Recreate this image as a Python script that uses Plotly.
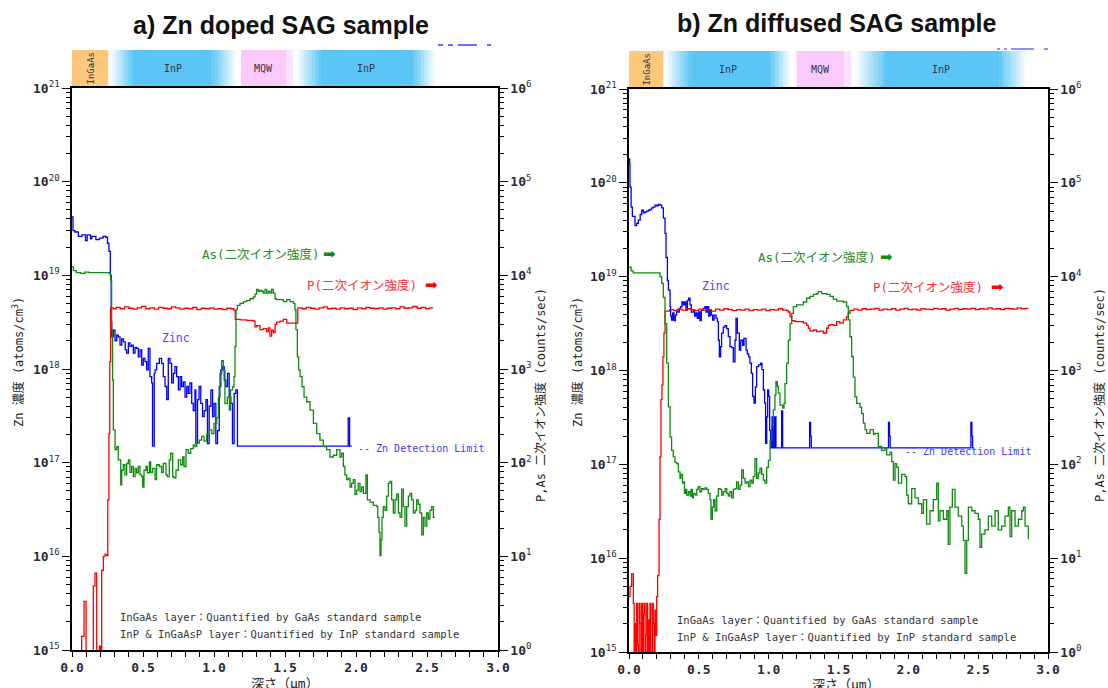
import plotly.graph_objects as go

W, H = 1108, 688
def fx(p): return p / W
def fy(p): return 1 - p / H

# ---------------- a) Zn doped SAG sample ----------------
a_zn_depth = [0.000, 0.007, 0.020, 0.045, 0.070, 0.095, 0.107, 0.130, 0.140, 0.168,
              0.193, 0.218, 0.238, 0.250, 0.260, 0.270, 0.276, 0.280, 0.291, 0.303,
              0.315, 0.326, 0.338, 0.350, 0.362, 0.375, 0.385, 0.397, 0.408, 0.420,
              0.432, 0.444, 0.455, 0.467, 0.479, 0.491, 0.502, 0.514, 0.526, 0.537,
              0.549, 0.561, 0.567, 0.573, 0.579, 0.585, 0.596, 0.615, 0.631, 0.643,
              0.655, 0.667, 0.678, 0.690, 0.702, 0.714, 0.725, 0.737, 0.749, 0.761,
              0.772, 0.784, 0.796, 0.808, 0.819, 0.831, 0.843, 0.854, 0.866, 0.872,
              0.884, 0.895, 0.907, 0.919, 0.931, 0.943, 0.954, 0.966, 0.978, 0.990,
              1.001, 1.013, 1.025, 1.037, 1.048, 1.060, 1.072, 1.083, 1.095, 1.107,
              1.118, 1.130, 1.142, 1.154, 1.165, 1.500, 1.940, 1.945, 1.955, 1.970]
a_zn_conc = [4.2e19, 3.0e19, 2.9e19, 2.6e19, 2.7e19, 2.35e19, 2.7e19, 2.45e19, 2.6e19, 2.4e19,
             2.5e19, 2.6e19, 2.55e19, 2.2e19, 1.8e19, 1.0e19, 3.2e18, 2.2e18, 2.6e18, 2.0e18,
             2.3e18, 2.2e18, 1.8e18, 2.1e18, 1.95e18, 1.6e18, 1.48e18, 1.9e18, 1.74e18, 1.8e18,
             1.48e18, 1.7e18, 1.66e18, 1.35e18, 1.6e18, 1.1e18, 1.3e18, 1.2e18, 9.8e17, 1.66e18,
             8.3e17, 7.1e17, 1.5e17, 1.5e17, 9.0e17, 9.8e17, 1.15e18, 1.3e18, 1.15e18, 8.3e17,
             6.5e17, 4.7e17, 1.3e18, 1.15e18, 7.1e17, 9.0e17, 1.06e18, 8.3e17, 6.0e17, 8.3e17,
             6.5e17, 7.3e17, 5.0e17, 6.5e17, 5.5e17, 7.1e17, 4.3e17, 3.6e17, 6.0e17, 1.6e17,
             4.7e17, 6.5e17, 4.3e17, 3.1e17, 3.6e17, 4.7e17, 1.6e17, 4.0e17, 6.0e17, 3.1e17,
             4.3e17, 1.6e17, 2.2e17, 6.5e17, 9.8e17, 1.06e18, 7.6e17, 6.5e17, 9.0e17, 5.0e17,
             4.3e17, 1.6e17, 5.5e17, 6.0e17, 1.5e17, 1.5e17, 1.5e17, 3.0e17, 1.5e17, 1.5e17]

a_as_depth = [0.000, 0.010, 0.030, 0.060, 0.090, 0.120, 0.160, 0.200, 0.240, 0.262,
              0.272, 0.279, 0.286, 0.291, 0.303, 0.315, 0.326, 0.343, 0.350, 0.361,
              0.373, 0.385, 0.397, 0.408, 0.420, 0.432, 0.444, 0.455, 0.467, 0.479,
              0.491, 0.498, 0.507, 0.521, 0.531, 0.545, 0.554, 0.568, 0.585, 0.596,
              0.615, 0.631, 0.643, 0.662, 0.671, 0.685, 0.695, 0.709, 0.718, 0.732,
              0.749, 0.765, 0.779, 0.789, 0.803, 0.819, 0.836, 0.854, 0.866, 0.878,
              0.897, 0.913, 0.930, 0.948, 0.967, 0.984, 1.000, 1.019, 1.031, 1.042,
              1.054, 1.066, 1.077, 1.094, 1.108, 1.117, 1.131, 1.141, 1.148, 1.155,
              1.164, 1.183, 1.207, 1.230, 1.254, 1.277, 1.289, 1.300, 1.312, 1.324,
              1.336, 1.347, 1.359, 1.371, 1.383, 1.394, 1.406, 1.418, 1.430, 1.441,
              1.465, 1.488, 1.512, 1.535, 1.559, 1.570, 1.577, 1.587, 1.596, 1.606,
              1.620, 1.634, 1.653, 1.676, 1.700, 1.723, 1.746, 1.770, 1.793, 1.817,
              1.840, 1.864, 1.887, 1.899, 1.911, 1.922, 1.934, 1.946, 1.958, 1.969,
              1.981, 1.993, 2.005, 2.016, 2.028, 2.040, 2.052, 2.070, 2.080, 2.099,
              2.122, 2.146, 2.153, 2.162, 2.169, 2.176, 2.183, 2.192, 2.204, 2.216,
              2.228, 2.239, 2.251, 2.263, 2.275, 2.286, 2.298, 2.310, 2.322, 2.333,
              2.345, 2.357, 2.369, 2.380, 2.392, 2.404, 2.416, 2.427, 2.439, 2.451,
              2.463, 2.474, 2.486, 2.498, 2.509, 2.521, 2.533, 2.545, 2.557]
a_as_counts = [12300, 11200, 10700, 10500, 10800, 10700, 10700, 10700, 10700, 10500,
               8900, 2630, 760, 224, 138, 148, 107, 58, 83, 95,
               74, 98, 107, 79, 91, 71, 87, 78, 91, 74,
               71, 55, 83, 91, 78, 102, 79, 87, 66, 95,
               91, 79, 98, 74, 71, 107, 126, 71, 69, 83,
               107, 95, 115, 91, 138, 126, 141, 155, 148, 162,
               174, 191, 170, 200, 224, 204, 263, 302, 500, 890,
               1230, 980, 427, 500, 363, 600, 646, 830, 1740, 4270,
               4790, 5010, 5250, 5370, 5620, 5890, 6310, 7080, 6760, 6920,
               6760, 6460, 7080, 6460, 6760, 6460, 7080, 6460, 5620, 5500,
               5500, 5250, 5500, 5250, 5010, 4270, 2630, 1350, 980, 830,
               646, 500, 447, 363, 263, 204, 174, 148, 138, 115,
               120, 138, 115, 126, 91, 74, 66, 68, 55, 60,
               66, 46, 51, 60, 49, 55, 47, 74, 40, 38,
               35, 34, 26, 18, 10.2, 15, 26, 34, 31, 44,
               60, 63, 40, 29, 40, 46, 29, 26, 52, 34,
               21, 34, 44, 47, 40, 29, 31, 40, 36, 29,
               17, 26, 21, 29, 25, 31, 34, 26, 26]

a_p_depth = [0.000, 0.068, 0.076, 0.085, 0.099, 0.150, 0.162, 0.174, 0.193, 0.200,
             0.209, 0.221, 0.232, 0.244, 0.252, 0.260, 0.266, 0.272, 0.290, 0.310,
             0.340, 0.370, 0.400, 0.430, 0.460, 0.490, 0.520, 0.550, 0.580, 0.610,
             0.640, 0.670, 0.700, 0.730, 0.760, 0.790, 0.820, 0.850, 0.880, 0.910,
             0.940, 0.970, 1.000, 1.030, 1.060, 1.090, 1.120, 1.140, 1.150, 1.183,
             1.230, 1.277, 1.289, 1.300, 1.324, 1.347, 1.371, 1.383, 1.394, 1.406,
             1.418, 1.430, 1.441, 1.465, 1.488, 1.512, 1.540, 1.560, 1.578, 1.590,
             1.620, 1.650, 1.680, 1.710, 1.740, 1.770, 1.800, 1.830, 1.860, 1.890,
             1.920, 1.950, 1.980, 2.010, 2.040, 2.070, 2.100, 2.130, 2.160, 2.190,
             2.220, 2.250, 2.280, 2.310, 2.340, 2.370, 2.400, 2.430, 2.460, 2.490,
             2.520, 2.540]
a_p_counts = [0.3, 1.4, 1.4, 3.3, 0.3, 4.8, 6.6, 0.3, 1.1, 0.3,
              7.1, 10, 10.5, 10.2, 40, 204, 1200, 4500, 4400, 4550,
              4400, 4600, 4450, 4350, 4500, 4650, 4400, 4500, 4350, 4550,
              4450, 4400, 4600, 4500, 4350, 4450, 4400, 4550, 4300, 4450,
              4400, 4500, 4350, 4400, 4300, 4450, 4400, 4200, 3390, 3350,
              3300, 3240, 2820, 2900, 2630, 2700, 2510, 2750, 2240, 2600,
              2450, 3000, 3160, 3240, 3390, 3090, 3090, 3090, 3090, 4500,
              4400, 4550, 4450, 4350, 4500, 4600, 4400, 4450, 4350, 4500,
              4400, 4450, 4300, 4500, 4400, 4550, 4450, 4400, 4500, 4350,
              4450, 4500, 4400, 4600, 4450, 4500, 4650, 4450, 4550, 4400,
              4500, 4450]

# ---------------- b) Zn diffused SAG sample ----------------
b_zn_depth = [0.000, 0.005, 0.007, 0.015, 0.024, 0.043, 0.055, 0.067, 0.080, 0.091,
              0.103, 0.115, 0.127, 0.139, 0.150, 0.162, 0.174, 0.186, 0.198, 0.210,
              0.222, 0.234, 0.246, 0.258, 0.265, 0.275, 0.282, 0.294, 0.298, 0.305,
              0.313, 0.322, 0.332, 0.341, 0.351, 0.360, 0.370, 0.379, 0.389, 0.399,
              0.408, 0.418, 0.427, 0.437, 0.446, 0.461, 0.470, 0.480, 0.489, 0.499,
              0.508, 0.518, 0.532, 0.544, 0.551, 0.561, 0.571, 0.580, 0.590, 0.599,
              0.609, 0.623, 0.633, 0.640, 0.647, 0.656, 0.663, 0.675, 0.687, 0.699,
              0.711, 0.723, 0.735, 0.747, 0.759, 0.766, 0.776, 0.790, 0.800, 0.814,
              0.823, 0.838, 0.847, 0.857, 0.866, 0.876, 0.885, 0.895, 0.905, 0.914,
              0.928, 0.943, 0.952, 0.962, 0.971, 0.978, 0.986, 0.993, 1.000, 1.007,
              1.014, 1.024, 1.033, 1.043, 1.052, 1.093, 1.100, 1.290, 1.293, 1.300,
              1.305, 1.855, 1.858, 1.865, 1.870, 2.445, 2.448, 2.455, 2.460, 2.470]
b_zn_conc = [1.8e20, 1.6e20, 9.0e19, 5.5e19, 4.4e19, 3.5e19, 3.7e19, 4.0e19, 4.6e19, 5.1e19,
             4.8e19, 4.9e19, 5.0e19, 5.1e19, 5.2e19, 5.4e19, 5.5e19, 5.8e19, 5.7e19, 5.9e19,
             5.8e19, 5.4e19, 4.2e19, 2.9e19, 1.6e19, 9.1e18, 7.2e18, 4.8e18, 3.8e18, 3.45e18,
             4.1e18, 3.4e18, 3.9e18, 4.4e18, 4.2e18, 4.6e18, 4.8e18, 5.4e18, 5.0e18, 5.4e18,
             4.4e18, 5.6e18, 5.9e18, 5.0e18, 4.2e18, 4.4e18, 3.8e18, 4.1e18, 3.6e18, 4.2e18,
             3.4e18, 4.4e18, 4.6e18, 4.8e18, 4.2e18, 4.8e18, 3.8e18, 4.4e18, 3.9e18, 3.45e18,
             3.9e18, 3.6e18, 3.3e18, 2.1e18, 1.4e18, 1.8e18, 2.5e18, 2.9e18, 3.0e18, 2.8e18,
             2.3e18, 1.8e18, 1.75e18, 1.24e18, 2.1e18, 3.6e18, 2.5e18, 1.65e18, 2.1e18, 1.85e18,
             2.2e18, 1.65e18, 1.5e18, 1.4e18, 1.2e18, 9.3e17, 5.3e17, 4.5e17, 6.7e17, 1.1e18,
             1.15e18, 1.2e18, 1.02e18, 6.2e17, 4.5e17, 1.67e17, 3.2e17, 6.2e17, 5.3e17, 2.3e17,
             1.5e17, 3.2e17, 1.5e17, 3.2e17, 1.5e17, 3.7e17, 1.5e17, 1.5e17, 2.8e17, 2.0e17,
             1.5e17, 1.5e17, 2.8e17, 2.0e17, 1.5e17, 1.5e17, 2.8e17, 2.0e17, 1.5e17, 1.5e17]

b_as_depth = [0.000, 0.015, 0.030, 0.060, 0.100, 0.140, 0.180, 0.210, 0.222, 0.234,
              0.246, 0.258, 0.270, 0.282, 0.294, 0.305, 0.317, 0.329, 0.341, 0.353,
              0.365, 0.371, 0.383, 0.389, 0.397, 0.406, 0.413, 0.425, 0.437, 0.444,
              0.454, 0.461, 0.473, 0.485, 0.496, 0.508, 0.520, 0.532, 0.544, 0.556,
              0.568, 0.580, 0.587, 0.597, 0.606, 0.616, 0.628, 0.640, 0.652, 0.664,
              0.676, 0.688, 0.700, 0.711, 0.723, 0.735, 0.747, 0.759, 0.771, 0.783,
              0.795, 0.807, 0.819, 0.831, 0.843, 0.855, 0.867, 0.879, 0.890, 0.902,
              0.914, 0.926, 0.938, 0.950, 0.962, 0.974, 0.986, 0.998, 1.010, 1.022,
              1.033, 1.045, 1.052, 1.062, 1.069, 1.081, 1.100, 1.110, 1.117, 1.129,
              1.141, 1.153, 1.165, 1.177, 1.200, 1.224, 1.248, 1.272, 1.296, 1.320,
              1.343, 1.355, 1.367, 1.379, 1.391, 1.415, 1.439, 1.463, 1.487, 1.510,
              1.534, 1.558, 1.570, 1.582, 1.594, 1.606, 1.618, 1.630, 1.654, 1.666,
              1.678, 1.690, 1.702, 1.726, 1.750, 1.761, 1.785, 1.809, 1.833, 1.845,
              1.869, 1.881, 1.893, 1.905, 1.917, 1.929, 1.952, 1.976, 1.988, 2.000,
              2.024, 2.048, 2.072, 2.096, 2.108, 2.131, 2.155, 2.179, 2.203, 2.215,
              2.227, 2.251, 2.275, 2.286, 2.298, 2.315, 2.334, 2.358, 2.382, 2.394,
              2.406, 2.418, 2.430, 2.454, 2.477, 2.501, 2.513, 2.525, 2.549, 2.573,
              2.597, 2.621, 2.644, 2.668, 2.692, 2.716, 2.728, 2.740, 2.764, 2.788,
              2.812, 2.824, 2.836, 2.859]
b_as_counts = [12600, 11500, 11000, 11000, 11000, 11000, 11000, 11000, 10000, 8500,
               6000, 3160, 1200, 410, 195, 141, 120, 105, 102, 83,
               71, 78, 63, 65, 49, 54, 47, 51, 46, 54,
               44, 49, 47, 54, 58, 51, 55, 54, 56, 54,
               49, 42, 26, 35, 42, 32, 46, 55, 54, 47,
               51, 55, 49, 46, 51, 44, 54, 55, 65, 54,
               60, 87, 71, 63, 65, 58, 68, 63, 74, 115,
               71, 81, 91, 78, 68, 63, 93, 110, 180, 260,
               380, 550, 759, 676, 575, 427, 398, 447, 724, 1200,
               2090, 3160, 4070, 4790, 5010, 5010, 5370, 5890, 6170, 6460,
               6610, 6920, 6920, 6610, 6610, 6460, 6170, 5750, 5500, 5500,
               5370, 4790, 3470, 2290, 1410, 851, 525, 447, 407, 347,
               275, 234, 214, 234, 209, 214, 155, 141, 148, 126,
               135, 107, 68, 102, 93, 63, 78, 74, 47, 38,
               55, 44, 38, 30, 42, 23, 32, 42, 63, 25,
               32, 26, 32, 14, 35, 54, 35, 28, 22, 15.5,
               6.9, 15.5, 35, 32, 30, 26, 13, 18, 20, 28,
               22, 32, 20, 22, 28, 35, 17, 32, 22, 26,
               32, 35, 22, 16]

b_p_depth = [0.000, 0.007, 0.019, 0.031, 0.037, 0.043, 0.049, 0.055, 0.061, 0.067,
             0.073, 0.079, 0.085, 0.091, 0.097, 0.103, 0.109, 0.115, 0.121, 0.127,
             0.133, 0.139, 0.145, 0.150, 0.156, 0.162, 0.168, 0.174, 0.180, 0.186,
             0.192, 0.198, 0.205, 0.215, 0.222, 0.229, 0.236, 0.243, 0.250, 0.258,
             0.290, 0.320, 0.350, 0.380, 0.410, 0.440, 0.470, 0.500, 0.530, 0.560,
             0.590, 0.620, 0.650, 0.680, 0.710, 0.740, 0.770, 0.800, 0.830, 0.860,
             0.890, 0.920, 0.950, 0.980, 1.010, 1.040, 1.070, 1.100, 1.130, 1.141,
             1.153, 1.165, 1.189, 1.224, 1.248, 1.272, 1.284, 1.296, 1.320, 1.343,
             1.367, 1.391, 1.415, 1.427, 1.439, 1.463, 1.487, 1.510, 1.534, 1.558,
             1.570, 1.582, 1.610, 1.640, 1.670, 1.700, 1.730, 1.760, 1.790, 1.820,
             1.850, 1.880, 1.910, 1.940, 1.970, 2.000, 2.030, 2.060, 2.090, 2.120,
             2.150, 2.180, 2.210, 2.240, 2.270, 2.300, 2.330, 2.360, 2.390, 2.420,
             2.450, 2.480, 2.510, 2.540, 2.570, 2.600, 2.630, 2.660, 2.690, 2.720,
             2.750, 2.780, 2.810, 2.840, 2.855]
b_p_counts = [3.9, 5.0, 6.8, 3.3, 0.3, 2.0, 0.3, 3.3, 1.2, 0.3,
              3.3, 2.0, 0.3, 3.3, 0.3, 2.5, 3.3, 0.3, 1.5, 3.3,
              0.3, 2.2, 0.3, 3.3, 1.0, 0.3, 3.3, 2.0, 0.3, 2.8,
              1.5, 3.9, 6.5, 26, 120, 490, 700, 1400, 2500, 4300,
              4450, 4350, 4500, 4400, 4550, 4450, 4350, 4500, 4400, 4450,
              4300, 4500, 4400, 4550, 4450, 4350, 4450, 4400, 4500, 4350,
              4450, 4400, 4500, 4350, 4450, 4400, 4550, 4400, 4350, 4200,
              3720, 3390, 3310, 3310, 3200, 3020, 2820, 2630, 2700, 2600,
              2630, 2510, 2820, 3020, 3090, 3020, 3310, 3200, 3470, 3720,
              4070, 4370, 4500, 4400, 4550, 4450, 4500, 4600, 4400, 4500,
              4450, 4550, 4400, 4500, 4600, 4450, 4500, 4400, 4550, 4500,
              4450, 4600, 4500, 4550, 4400, 4500, 4600, 4450, 4550, 4500,
              4600, 4450, 4550, 4500, 4650, 4500, 4550, 4450, 4600, 4550,
              4500, 4650, 4550, 4600, 4650]

# layer structure bars: (label, fade_start, solid_start, solid_end, fade_end, colour)
ORANGE, BLUE, PINK, PALE = "#FDC87B", "#5BC6F5", "#FACBFA", "#FCE2FC"
a_layers = [("InGaAs", 0.000, 0.000, 0.254, 0.254, ORANGE),
            ("InP", 0.268, 0.430, 0.990, 1.160, BLUE),
            ("MQW", 1.190, 1.190, 1.510, 1.510, PINK),
            ("", 1.510, 1.510, 1.555, 1.555, PALE),
            ("InP", 1.580, 1.750, 2.400, 2.560, BLUE)]
b_layers = [("InGaAs", 0.000, 0.000, 0.245, 0.245, ORANGE),
            ("InP", 0.258, 0.440, 1.010, 1.160, BLUE),
            ("MQW", 1.200, 1.200, 1.540, 1.540, PINK),
            ("", 1.540, 1.540, 1.590, 1.590, PALE),
            ("InP", 1.620, 1.840, 2.650, 2.850, BLUE)]

depth_ticks = [0.0, 0.5, 1.0, 1.5, 2.0, 2.5, 3.0]
conc_decades = [15, 16, 17, 18, 19, 20, 21]
count_decades = [0, 1, 2, 3, 4, 5, 6]
DETECTION_TEXT = "-- Zn Detection Limit"

RED, GREEN, ZBLUE = "#FF0000", "#118A11", "#0000FF"
MONO = "DejaVu Sans Mono, Noto Sans CJK JP, monospace"
CJK = "DejaVu Sans Mono, Noto Sans CJK JP, sans-serif"
TICKC = "#2a2a36"

fig = go.Figure()

def add_line(x, y, xa, ya, color):
    fig.add_trace(go.Scatter(x=x, y=y, xaxis=xa, yaxis=ya, mode="lines",
                             line=dict(color=color, width=1.3, shape="hv"),
                             showlegend=False, hoverinfo="skip"))

add_line(a_zn_depth, a_zn_conc, "x", "y", ZBLUE)
add_line(a_p_depth, a_p_counts, "x", "y2", RED)
add_line(a_as_depth, a_as_counts, "x", "y2", GREEN)
add_line(b_zn_depth, b_zn_conc, "x2", "y3", ZBLUE)
add_line(b_p_depth, b_p_counts, "x2", "y4", RED)
add_line(b_as_depth, b_as_counts, "x2", "y4", GREEN)

def minor_vals(decs):
    return [m * 10.0 ** d for d in decs[:-1] for m in range(2, 10)]

def xaxis_cfg(l, r, anchor):
    return dict(domain=[fx(l), fx(r)], range=[0, 3], anchor=anchor, showgrid=False,
                zeroline=False, showline=True, linecolor="black", linewidth=1.5,
                mirror=True, ticks="outside", ticklen=5, tickwidth=1.2, tickcolor="black",
                automargin=False,
                tickmode="array", tickvals=depth_ticks,
                ticktext=["<b>%.1f</b>" % t for t in depth_ticks],
                tickfont=dict(family=MONO, size=13, color=TICKC),
                minor=dict(dtick=0.1, ticks="outside", ticklen=5, tickwidth=1.2,
                           tickcolor="black", showgrid=False))

def yaxis_cfg(t, b, anchor, decs, side="left", overlay=None):
    d = dict(type="log", range=[decs[0], decs[-1]], anchor=anchor, side=side,
             showgrid=False, zeroline=False, showline=True, linecolor="black",
             linewidth=1.5, ticks="outside", ticklen=8, tickwidth=1.2, tickcolor="black",
             automargin=False,
             tickmode="array", tickvals=[10.0 ** k for k in decs],
             ticktext=["<b>10</b><sup>%d</sup>" % k for k in decs],
             tickfont=dict(family=MONO, size=13, color=TICKC),
             minor=dict(tickmode="array", tickvals=minor_vals(decs), ticks="outside",
                        ticklen=4, tickwidth=1, tickcolor="black", showgrid=False))
    if overlay:
        d["overlaying"] = overlay
    else:
        d["domain"] = [fy(b), fy(t)]
    return d

fig.update_layout(
    width=W, height=H, margin=dict(l=0, r=0, t=0, b=0, autoexpand=False),
    paper_bgcolor="white", plot_bgcolor="white", showlegend=False,
    xaxis=xaxis_cfg(72, 498, "y"),
    yaxis=yaxis_cfg(88, 650, "x", conc_decades),
    yaxis2=yaxis_cfg(88, 650, "x", count_decades, side="right", overlay="y"),
    xaxis2=xaxis_cfg(629, 1048, "y3"),
    yaxis3=yaxis_cfg(89, 652, "x2", conc_decades),
    yaxis4=yaxis_cfg(89, 652, "x2", count_decades, side="right", overlay="y3"),
)

# ---- layer bars ----
def blend(c, t):
    r, g, b = int(c[1:3], 16), int(c[3:5], 16), int(c[5:7], 16)
    return "rgb(%d,%d,%d)" % (round(255 + (r - 255) * t), round(255 + (g - 255) * t),
                              round(255 + (b - 255) * t))

shapes = []
annos = []
def bar(layers, xref, top, bottom):
    y1, y0 = fy(top), fy(bottom)
    n = 16
    for name, f0, s0, s1, f1, col in layers:
        if s0 > f0:
            for i in range(n):
                a = f0 + (s0 - f0) * i / n
                b = f0 + (s0 - f0) * (i + 1) / n + 0.002
                shapes.append(dict(type="rect", xref=xref, yref="paper", x0=a, x1=b, y0=y0, y1=y1,
                                   fillcolor=blend(col, (i + 0.5) / n), line=dict(width=0), layer="below"))
        shapes.append(dict(type="rect", xref=xref, yref="paper", x0=s0, x1=s1 + 0.001, y0=y0, y1=y1,
                           fillcolor=col, line=dict(width=0), layer="below"))
        if f1 > s1:
            for i in range(n):
                a = s1 + (f1 - s1) * i / n
                b = s1 + (f1 - s1) * (i + 1) / n + 0.002
                shapes.append(dict(type="rect", xref=xref, yref="paper", x0=a, x1=b, y0=y0, y1=y1,
                                   fillcolor=blend(col, 1 - (i + 0.5) / n), line=dict(width=0), layer="below"))
        if name:
            mid = (f0 + f1) / 2
            annos.append(dict(xref=xref, yref="paper", x=mid, y=(y0 + y1) / 2, text=name,
                              showarrow=False, xanchor="center", yanchor="middle",
                              textangle=-90 if name == "InGaAs" else 0,
                              font=dict(family=MONO, size=10 if name != "InGaAs" else 9, color="#333344")))

bar(a_layers, "x", 50, 87)
bar(b_layers, "x2", 51, 88)

# small blue legend fragments above the panels
for (x0, x1, yy, col) in [(438, 443, 45, "#3b3bff"), (448, 453, 45, "#3b3bff"), (458, 477, 45, "#3b3bff"), (487, 491, 45, "#3b3bff"),
                          (997, 1000, 49, "#6b6bff"), (1004, 1007, 49, "#6b6bff"), (1011, 1034, 49, "#6b6bff"), (1044, 1048, 49, "#6b6bff")]:
    shapes.append(dict(type="line", xref="paper", yref="paper", x0=fx(x0), x1=fx(x1), y0=fy(yy), y1=fy(yy),
                       line=dict(color=col, width=1.5)))

def text(x, y, s, size=12, color="#222", family=CJK, angle=0, anchor="left", bold=False):
    annos.append(dict(xref="paper", yref="paper", x=fx(x), y=fy(y), text=("<b>%s</b>" % s) if bold else s,
                      showarrow=False, xanchor=anchor, yanchor="middle", textangle=angle,
                      font=dict(family=family, size=size, color=color)))

# titles
text(281, 25, "a) Zn doped SAG sample", size=25, color="#111", family="Liberation Sans, Arial, sans-serif", anchor="center", bold=True)
text(837, 23, "b) Zn diffused SAG sample", size=25, color="#111", family="Liberation Sans, Arial, sans-serif", anchor="center", bold=True)

# axis titles
for xl, xr, xb, yb in [(18, 541, 285, 683), (577, 1100, 846, 684)]:
    text(xl, 362, "Zn 濃度 (atoms/cm<sup>3</sup>)", size=12, color="#222", angle=-90, anchor="center")
    text(xr, 395, "P,As 二次イオン強度 (counts/sec)", size=12, color="#222", angle=-90, anchor="center")
    text(xb, yb, "深さ（μm）", size=13, color="#222", anchor="center")

# series labels
def series_labels(as_xy, p_xy, zinc_xy, det_xy, notes_xy):
    text(as_xy[0], as_xy[1], "As(二次イオン強度)", size=12.5, color="#2a8a2a")
    text(as_xy[2], as_xy[1], "➡", size=15, color="#138a13", family="DejaVu Sans", anchor="left")
    text(p_xy[0], p_xy[1], "P(二次イオン強度)", size=12.5, color="#ff3333")
    text(p_xy[2], p_xy[1], "➡", size=15, color="#ff0000", family="DejaVu Sans", anchor="left")
    text(zinc_xy[0], zinc_xy[1], "Zinc", size=11.5, color="#4444ff")
    text(det_xy[0], det_xy[1], DETECTION_TEXT, size=10, color="#3a3aff")
    text(notes_xy[0], notes_xy[1], "InGaAs layer：Quantified by GaAs standard sample", size=10.5, color="#333")
    text(notes_xy[0], notes_xy[1] + 17, "InP & InGaAsP layer：Quantified by InP standard sample", size=10.5, color="#333")

series_labels((200, 254, 321), (305, 285, 423), (160, 338), (356, 448), (118, 617))
series_labels((756, 257, 878), (871, 287, 989), (700, 286), (903, 451), (675, 620))

fig.update_layout(shapes=shapes, annotations=annos)
fig.write_html("out.html", config={"displayModeBar": False},
               post_script="document.body.style.margin='0px';document.body.style.padding='0px';"
                           "document.documentElement.style.overflow='hidden';")
